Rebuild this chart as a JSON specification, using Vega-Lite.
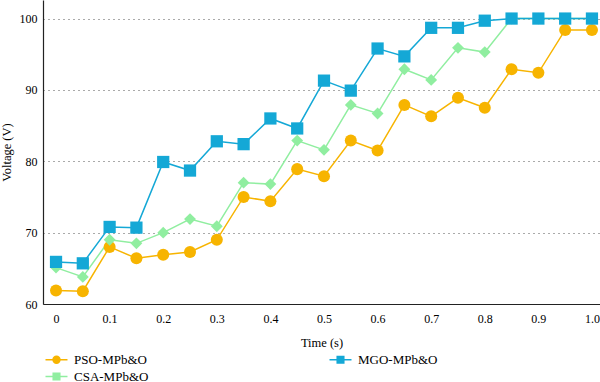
{
  "$schema": "https://vega.github.io/schema/vega-lite/v6.json",
  "width": 557,
  "height": 304,
  "autosize": {"type": "none"},
  "padding": {"left": 43, "top": 0, "right": 0, "bottom": 78},
  "background": "white",
  "config": {
    "view": {"stroke": null},
    "font": "'Liberation Serif', 'Times New Roman', serif",
    "axis": {"labelFont": "'Liberation Serif', 'Times New Roman', serif", "titleFont": "'Liberation Serif', 'Times New Roman', serif", "labelColor": "#000", "titleColor": "#000", "titleFontWeight": "normal", "labelFontSize": 12, "titleFontSize": 12.5},
    "legend": {"labelFont": "'Liberation Serif', 'Times New Roman', serif", "labelFontSize": 13, "labelColor": "#000"}
  },
  "data": {"values": [
    {"t": 0, "v": 61.9, "s": "PSO-MPb&O"},
    {"t": 0.05, "v": 61.8, "s": "PSO-MPb&O"},
    {"t": 0.1, "v": 68.0, "s": "PSO-MPb&O"},
    {"t": 0.15, "v": 66.4, "s": "PSO-MPb&O"},
    {"t": 0.2, "v": 66.9, "s": "PSO-MPb&O"},
    {"t": 0.25, "v": 67.3, "s": "PSO-MPb&O"},
    {"t": 0.3, "v": 69.0, "s": "PSO-MPb&O"},
    {"t": 0.35, "v": 75.0, "s": "PSO-MPb&O"},
    {"t": 0.4, "v": 74.4, "s": "PSO-MPb&O"},
    {"t": 0.45, "v": 78.9, "s": "PSO-MPb&O"},
    {"t": 0.5, "v": 77.9, "s": "PSO-MPb&O"},
    {"t": 0.55, "v": 82.9, "s": "PSO-MPb&O"},
    {"t": 0.6, "v": 81.5, "s": "PSO-MPb&O"},
    {"t": 0.65, "v": 87.9, "s": "PSO-MPb&O"},
    {"t": 0.7, "v": 86.3, "s": "PSO-MPb&O"},
    {"t": 0.75, "v": 88.9, "s": "PSO-MPb&O"},
    {"t": 0.8, "v": 87.5, "s": "PSO-MPb&O"},
    {"t": 0.85, "v": 92.9, "s": "PSO-MPb&O"},
    {"t": 0.9, "v": 92.4, "s": "PSO-MPb&O"},
    {"t": 0.95, "v": 98.4, "s": "PSO-MPb&O"},
    {"t": 1.0, "v": 98.4, "s": "PSO-MPb&O"},
    {"t": 0, "v": 65.1, "s": "CSA-MPb&O"},
    {"t": 0.05, "v": 63.8, "s": "CSA-MPb&O"},
    {"t": 0.1, "v": 69.0, "s": "CSA-MPb&O"},
    {"t": 0.15, "v": 68.5, "s": "CSA-MPb&O"},
    {"t": 0.2, "v": 70.0, "s": "CSA-MPb&O"},
    {"t": 0.25, "v": 71.9, "s": "CSA-MPb&O"},
    {"t": 0.3, "v": 70.9, "s": "CSA-MPb&O"},
    {"t": 0.35, "v": 77.0, "s": "CSA-MPb&O"},
    {"t": 0.4, "v": 76.8, "s": "CSA-MPb&O"},
    {"t": 0.45, "v": 82.9, "s": "CSA-MPb&O"},
    {"t": 0.5, "v": 81.6, "s": "CSA-MPb&O"},
    {"t": 0.55, "v": 87.9, "s": "CSA-MPb&O"},
    {"t": 0.6, "v": 86.7, "s": "CSA-MPb&O"},
    {"t": 0.65, "v": 92.9, "s": "CSA-MPb&O"},
    {"t": 0.7, "v": 91.4, "s": "CSA-MPb&O"},
    {"t": 0.75, "v": 95.9, "s": "CSA-MPb&O"},
    {"t": 0.8, "v": 95.3, "s": "CSA-MPb&O"},
    {"t": 0.85, "v": 100, "s": "CSA-MPb&O"},
    {"t": 0.9, "v": 100, "s": "CSA-MPb&O"},
    {"t": 0.95, "v": 100, "s": "CSA-MPb&O"},
    {"t": 1.0, "v": 100, "s": "CSA-MPb&O"},
    {"t": 0, "v": 65.9, "s": "MGO-MPb&O"},
    {"t": 0.05, "v": 65.7, "s": "MGO-MPb&O"},
    {"t": 0.1, "v": 70.8, "s": "MGO-MPb&O"},
    {"t": 0.15, "v": 70.7, "s": "MGO-MPb&O"},
    {"t": 0.2, "v": 79.9, "s": "MGO-MPb&O"},
    {"t": 0.25, "v": 78.7, "s": "MGO-MPb&O"},
    {"t": 0.3, "v": 82.8, "s": "MGO-MPb&O"},
    {"t": 0.35, "v": 82.4, "s": "MGO-MPb&O"},
    {"t": 0.4, "v": 86.0, "s": "MGO-MPb&O"},
    {"t": 0.45, "v": 84.6, "s": "MGO-MPb&O"},
    {"t": 0.5, "v": 91.3, "s": "MGO-MPb&O"},
    {"t": 0.55, "v": 89.9, "s": "MGO-MPb&O"},
    {"t": 0.6, "v": 95.8, "s": "MGO-MPb&O"},
    {"t": 0.65, "v": 94.7, "s": "MGO-MPb&O"},
    {"t": 0.7, "v": 98.7, "s": "MGO-MPb&O"},
    {"t": 0.75, "v": 98.7, "s": "MGO-MPb&O"},
    {"t": 0.8, "v": 99.7, "s": "MGO-MPb&O"},
    {"t": 0.85, "v": 100, "s": "MGO-MPb&O"},
    {"t": 0.9, "v": 100, "s": "MGO-MPb&O"},
    {"t": 0.95, "v": 100, "s": "MGO-MPb&O"},
    {"t": 1.0, "v": 100, "s": "MGO-MPb&O"}
  ]},
  "encoding": {
    "x": {"field": "t", "type": "quantitative",
      "scale": {"domain": [-0.0243, 1.015], "nice": false, "zero": false},
      "axis": {"title": "Time (s)", "values": [0, 0.1, 0.2, 0.3, 0.4, 0.5, 0.6, 0.7, 0.8, 0.9, 1.0],
        "labelExpr": "datum.value == 0 ? '0' : datum.value == 1 ? '1.0' : format(datum.value, '.1f')",
        "grid": false, "ticks": false, "domainColor": "#222", "domainWidth": 1.2, "labelPadding": 9, "titlePadding": 12, "labelFlush": false}},
    "y": {"field": "v", "type": "quantitative",
      "scale": {"domain": [60, 102.6], "nice": false, "zero": false},
      "axis": {"title": "Voltage (V)", "values": [60, 70, 80, 90, 100], "ticks": false,
        "domainColor": "#222", "domainWidth": 1.2, "labelPadding": 6, "titlePadding": 6,
        "gridColor": "#555", "gridDash": [1, 4], "gridWidth": 1, "labelFlush": false}},
    "color": {"field": "s", "type": "nominal",
      "scale": {"domain": ["PSO-MPb&O", "CSA-MPb&O", "MGO-MPb&O"], "range": ["#F7B400", "#90EEA0", "#14A8D6"]},
      "legend": {
        "title": null, "orient": "none", "legendX": 4, "legendY": 350, "columns": 2,
        "columnPadding": 177, "rowPadding": -3, "symbolSize": 300, "symbolStrokeWidth": 1.5,
        "labelOffset": 8,
        "encode": {"symbols": {"update": {
          "shape": {"signal": "datum.value == 'PSO-MPb&O' ? 'M-1.27,0H1.27M0.4,0A0.4,0.4 0 1,1 -0.4,0A0.4,0.4 0 1,1 0.4,0Z' : 'M-1.27,0H1.27M-0.38,-0.38H0.38V0.38H-0.38Z'"},
          "fill": {"signal": "datum.value == 'PSO-MPb&O' ? '#F7B400' : datum.value == 'MGO-MPb&O' ? '#14A8D6' : '#90EEA0'"},
          "stroke": {"signal": "datum.value == 'PSO-MPb&O' ? '#F7B400' : datum.value == 'MGO-MPb&O' ? '#14A8D6' : '#90EEA0'"},
          "opacity": {"value": 1}, "fillOpacity": {"value": 1}, "strokeOpacity": {"value": 1}
        }}}
      }}
  },
  "layer": [
    {
      "mark": {"type": "line", "strokeWidth": 1.5}
    },
    {
      "mark": {"type": "point", "filled": true, "opacity": 1},
      "encoding": {
        "shape": {"field": "s", "type": "nominal",
          "scale": {"domain": ["MGO-MPb&O", "PSO-MPb&O", "CSA-MPb&O"], "range": ["square", "circle", "diamond"]},
          "legend": null},
        "size": {"field": "s", "type": "nominal",
          "scale": {"domain": ["MGO-MPb&O", "PSO-MPb&O", "CSA-MPb&O"], "range": [150, 140, 85]},
          "legend": null}
      }
    }
  ]
}
